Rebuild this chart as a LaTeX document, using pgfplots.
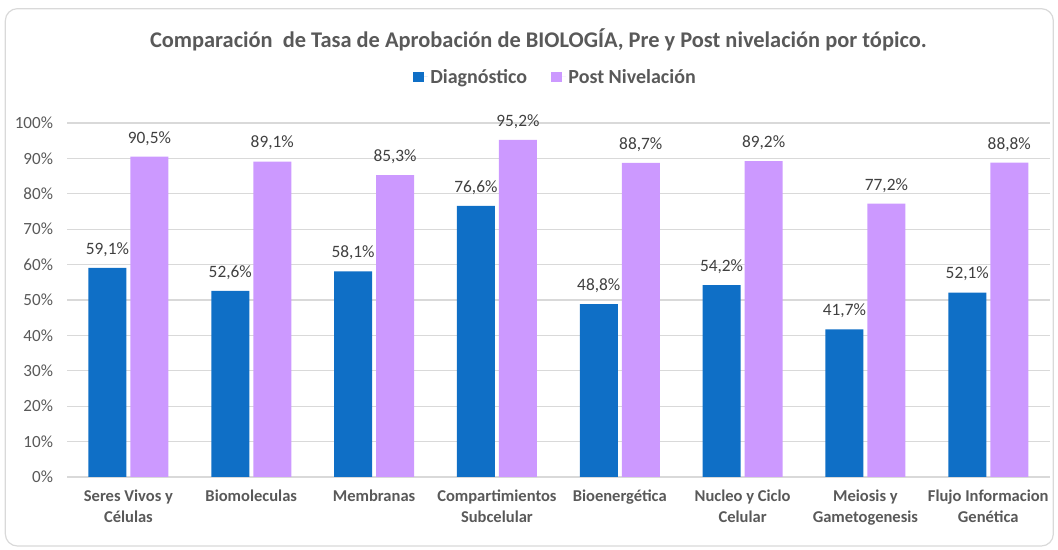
\documentclass[border=0pt]{standalone}
\usepackage{pgfplots}
\pgfplotsset{compat=1.18}
\usepackage{fontspec}
\setmainfont{Carlito}
\definecolor{diag}{HTML}{0F6FC6}
\definecolor{post}{HTML}{CC99FF}
\definecolor{txt}{HTML}{595959}
\definecolor{lbl}{HTML}{404040}
\definecolor{grd}{HTML}{D9D9D9}

\pgfplotstableread{
x pre post
0 59.1 90.5
1 52.6 89.1
2 58.1 85.3
3 76.6 95.2
4 48.8 88.7
5 54.2 89.2
6 41.7 77.2
7 52.1 88.8
}\datos

\begin{document}
\begin{tikzpicture}
\path[use as bounding box] (0,0) rectangle (793.5pt,412.5pt);
\draw[grd, line width=0.9pt, rounded corners=9pt] (4pt,3pt) rectangle (790pt,406pt);
\begin{axis}[
    at={(50.25pt,54.75pt)}, anchor=south west,
    scale only axis,
    width=737pt, height=265.5pt,
    ybar=3pt, bar width=28.5pt,
    xmin=-0.5, xmax=7.5,
    ymin=0, ymax=100,
    xtick=data,
    xticklabels={{Seres Vivos y\\Células},{Biomoleculas},{Membranas},{Compartimientos\\Subcelular},{Bioenergética},{Nucleo y Ciclo\\Celular},{Meiosis y\\Gametogenesis},{Flujo Informacion\\Genética}},
    xticklabel style={align=center, font=\fontsize{12.4}{16}\selectfont\bfseries, text=txt, yshift=-6pt},
    ytick={0,10,...,100},
    yticklabel={\pgfmathprintnumber{\tick}\%},
    yticklabel style={font=\fontsize{12.8}{15}\selectfont, text=txt, xshift=-7pt, /pgf/number format/assume math mode=true},
    axis line style={draw=none},
    major tick length=0pt,
    ymajorgrids, grid style={grd, line width=0.9pt},
    nodes near coords={\pgfmathprintnumber[fixed,fixed zerofill,precision=1,use comma,assume math mode=true]{\pgfplotspointmeta}\%},
    nodes near coords style={font=\fontsize{13}{15}\selectfont, text=lbl, yshift=5pt},
    title={Comparación\ \ de Tasa de Aprobación de BIOLOGÍA, Pre y Post nivelación por tópico.},
    title style={at={(0.5,1)}, anchor=center, yshift=56pt, xshift=-15pt, font=\fontsize{16.8}{19}\selectfont\bfseries, text=txt},
    legend columns=2,
    legend style={at={(0.5,1)}, anchor=center, yshift=34.5pt, xshift=-2pt, draw=none, fill=none,
        font=\fontsize{15}{17}\selectfont\bfseries, text=txt,
        /tikz/every even column/.append style={column sep=16pt}},
    legend image code/.code={\fill[#1] (0pt,-4pt) rectangle (8pt,4pt); \path (0pt,0pt) -- (11pt,0pt);},
]
\addplot[fill=diag, draw=none] table[x=x, y=pre] {\datos};
\addlegendentry{Diagnóstico}
\addplot[fill=post, draw=none] table[x=x, y=post] {\datos};
\addlegendentry{Post Nivelación}
\end{axis}
\end{tikzpicture}
\end{document}
